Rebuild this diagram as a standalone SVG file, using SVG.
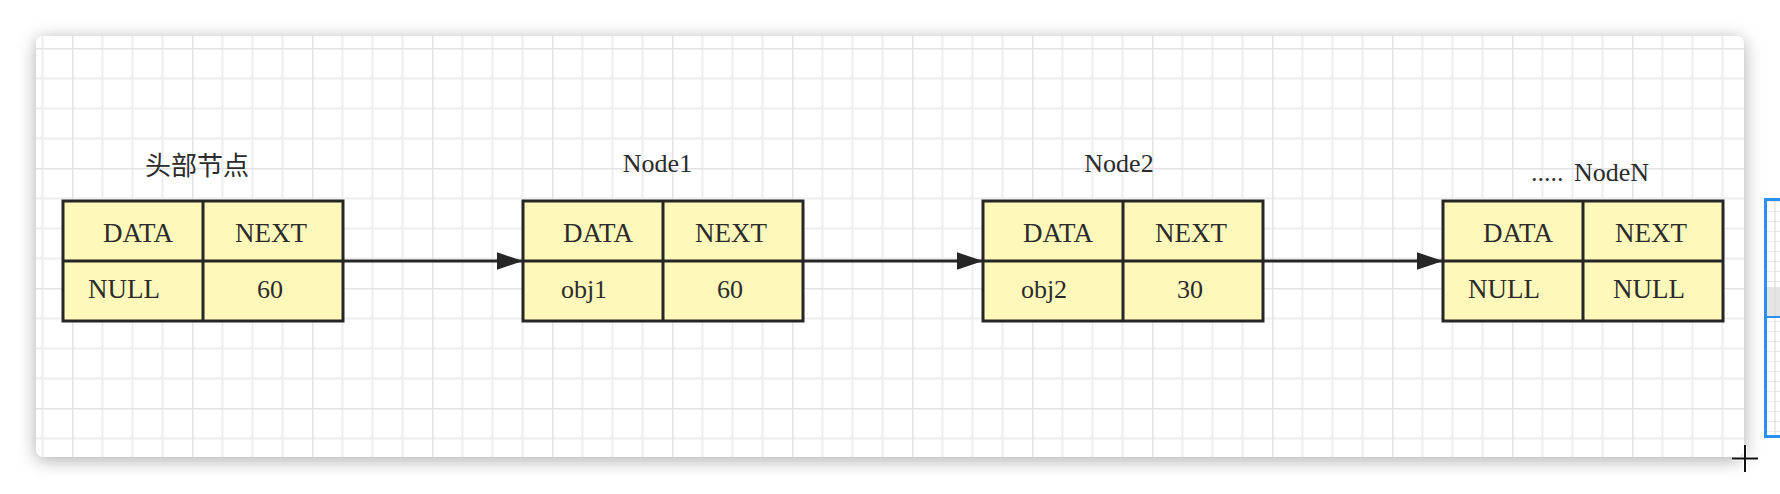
<svg xmlns="http://www.w3.org/2000/svg" width="1780" height="494" viewBox="0 0 1780 494">
<defs>
<style>
.cell{fill:#fef9bb;stroke:#262626;stroke-width:3;}
.div{stroke:#262626;stroke-width:3;fill:none;}
.t{font-family:"Liberation Serif","Noto Sans CJK SC",serif;font-size:26px;fill:#2b2b2b;text-anchor:middle;}
.caps{font-size:27px;}
.lbl{font-family:"Liberation Serif","Noto Sans CJK SC",serif;font-size:26px;fill:#2b2b2b;}
.conn{stroke:#262626;stroke-width:3;fill:none;marker-end:url(#arr);}
</style>
<pattern id="grid" patternUnits="userSpaceOnUse" x="72" y="48" width="120" height="120">
<path d="M30.5 0V120M60.5 0V120M90.5 0V120M0 30.5H120M0 60.5H120M0 90.5H120" stroke="#eeeeee" stroke-width="2" fill="none"/>
<path d="M0.5 0V120M0 0.5H120" stroke="#e3e3e3" stroke-width="2" fill="none"/>
</pattern>
<pattern id="mini" patternUnits="userSpaceOnUse" x="0" y="201" width="20" height="10">
<path d="M0 0H20" stroke="#d8d8d8" stroke-width="1" fill="none"/>
</pattern>
<filter id="sh" x="-5%" y="-20%" width="110%" height="140%">
<feDropShadow dx="0" dy="3" stdDeviation="9" flood-color="#000" flood-opacity="0.33"/>
</filter>
<marker id="arr" markerUnits="userSpaceOnUse" markerWidth="28" markerHeight="20" refX="26" refY="9" orient="auto">
<path d="M0 0.3L26 9L0 17.7Z" fill="#262626"/>
</marker>
</defs>
<rect width="1780" height="494" fill="#ffffff"/>
<g id="sidepanel">
<rect x="1765.5" y="199.5" width="20" height="237" fill="#ffffff" stroke="#2a90f2" stroke-width="3"/>
<rect x="1767" y="201" width="13" height="234" fill="url(#mini)"/>
<rect x="1767" y="287" width="13" height="30" fill="#e4e4e4"/>
<line x1="1775" y1="201" x2="1775" y2="435" stroke="#d8d8d8" stroke-width="1"/>
<line x1="1767" y1="317" x2="1780" y2="317" stroke="#2a90f2" stroke-width="2"/>
</g>
<rect x="36" y="36" width="1708" height="421" rx="8" fill="#ffffff" filter="url(#sh)"/>
<rect x="36" y="36" width="1708" height="421" rx="8" fill="url(#grid)"/>
<g id="connectors">
<path class="conn" d="M343 261H523"/>
<path class="conn" d="M803 261H983"/>
<path class="conn" d="M1263 261H1443"/>
</g>
<g id="node0">
<text class="lbl" x="145" y="175">头部节点</text>
<rect class="cell" x="63" y="201" width="280" height="120"/>
<path class="div" d="M203 201V321M63 261H343"/>
<text class="t caps" x="138" y="241.5">DATA</text>
<text class="t caps" x="271" y="241.5">NEXT</text>
<text class="t caps" x="124" y="297.5">NULL</text>
<text class="t" x="270" y="297.5">60</text>
</g>
<g id="node1">
<text class="t" x="657.5" y="172">Node1</text>
<rect class="cell" x="523" y="201" width="280" height="120"/>
<path class="div" d="M663 201V321M523 261H803"/>
<text class="t caps" x="598" y="241.5">DATA</text>
<text class="t caps" x="731" y="241.5">NEXT</text>
<text class="t" x="584" y="297.5">obj1</text>
<text class="t" x="730" y="297.5">60</text>
</g>
<g id="node2">
<text class="t" x="1119" y="172">Node2</text>
<rect class="cell" x="983" y="201" width="280" height="120"/>
<path class="div" d="M1123 201V321M983 261H1263"/>
<text class="t caps" x="1058" y="241.5">DATA</text>
<text class="t caps" x="1191" y="241.5">NEXT</text>
<text class="t" x="1044" y="297.5">obj2</text>
<text class="t" x="1190" y="297.5">30</text>
</g>
<g id="nodeN">
<text class="lbl" x="1531" y="181">.....<tspan x="1574">NodeN</tspan></text>
<rect class="cell" x="1443" y="201" width="280" height="120"/>
<path class="div" d="M1583 201V321M1443 261H1723"/>
<text class="t caps" x="1518" y="241.5">DATA</text>
<text class="t caps" x="1651" y="241.5">NEXT</text>
<text class="t caps" x="1504" y="297.5">NULL</text>
<text class="t caps" x="1649" y="297.5">NULL</text>
</g>
<g id="cursor">
<path d="M1732 458.5H1758M1745 445V472" stroke="#ffffff" stroke-width="4" fill="none"/>
<path d="M1732 458.5H1758M1745 445V472" stroke="#111111" stroke-width="2" fill="none"/>
</g>
</svg>
